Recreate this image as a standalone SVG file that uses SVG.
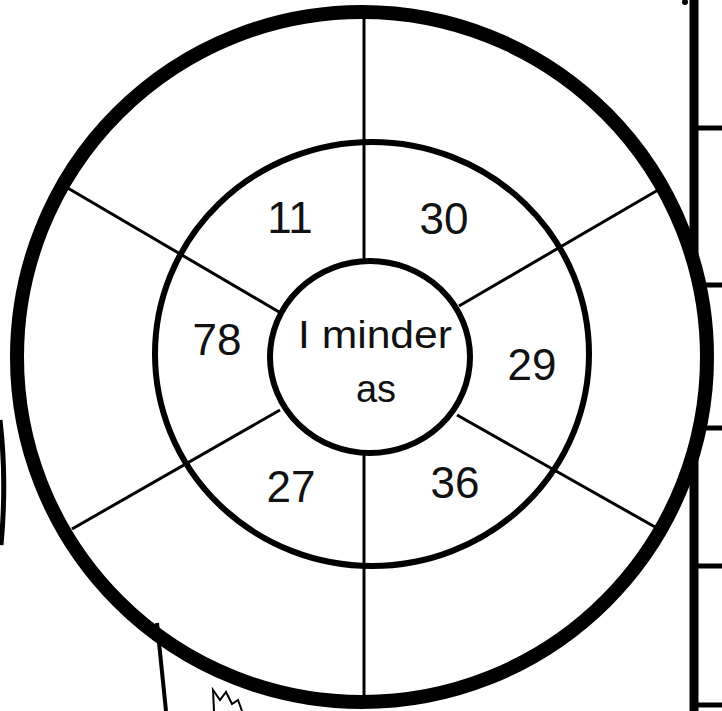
<svg xmlns="http://www.w3.org/2000/svg" width="722" height="711" viewBox="0 0 722 711">
<style>
.ring{fill:none;stroke:#000}
.sp{stroke:#000;stroke-width:3;fill:none}
.t{font-family:"Liberation Sans",Arial,sans-serif;font-size:44px;fill:#111;text-anchor:middle}
.c{font-size:38px}
</style>
<rect width="722" height="711" fill="#fff"/>
<g id="side">
<line x1="694" y1="0" x2="694" y2="711" stroke="#000" stroke-width="9"/>
<g stroke="#000" stroke-width="5">
<line x1="694" y1="128" x2="722" y2="128"/>
<line x1="694" y1="285" x2="722" y2="285"/>
<line x1="694" y1="428" x2="722" y2="428"/>
<line x1="694" y1="566" x2="722" y2="566"/>
<line x1="694" y1="705" x2="722" y2="705"/>
</g>
<circle cx="685" cy="2" r="3" fill="#000"/>
<path d="M0,420 Q7,480 1,545" fill="none" stroke="#000" stroke-width="5"/>
</g>
<g id="outer">
<circle cx="362" cy="357" r="345" fill="#fff" stroke="#000" stroke-width="14"/>
</g>
<g id="connectors">
<line class="sp" x1="364" y1="18" x2="364" y2="262"/>
<line class="sp" x1="364" y1="452" x2="364" y2="696"/>
<line class="sp" x1="66" y1="187" x2="279" y2="312"/>
<line class="sp" x1="658" y1="190" x2="459" y2="306"/>
<line class="sp" x1="72" y1="529" x2="280" y2="410"/>
<line class="sp" x1="655" y1="527" x2="457" y2="415"/>
</g>
<g id="middle">
<ellipse class="ring" cx="372" cy="354" rx="217" ry="212" stroke-width="6"/>
</g>
<g id="center">
<ellipse cx="370" cy="357" rx="100" ry="96" fill="#fff" stroke="#000" stroke-width="6"/>
<text class="t c" x="375" y="348" textLength="154" lengthAdjust="spacingAndGlyphs">I minder</text>
<text class="t c" x="376" y="402">as</text>
</g>
<g id="n11"><text class="t" x="290" y="233">11</text></g>
<g id="n30"><text class="t" x="444" y="234">30</text></g>
<g id="n78"><text class="t" x="217" y="355">78</text></g>
<g id="n29"><text class="t" x="532" y="380">29</text></g>
<g id="n27"><text class="t" x="291" y="502">27</text></g>
<g id="n36"><text class="t" x="455" y="498">36</text></g>
<g id="extra">
<line x1="157" y1="623" x2="166" y2="711" stroke="#000" stroke-width="4"/>
<path d="M214,711 L213,690 L220,700 L226,692 L232,704 L238,700 L242,711" fill="none" stroke="#000" stroke-width="2"/>
</g>
</svg>
